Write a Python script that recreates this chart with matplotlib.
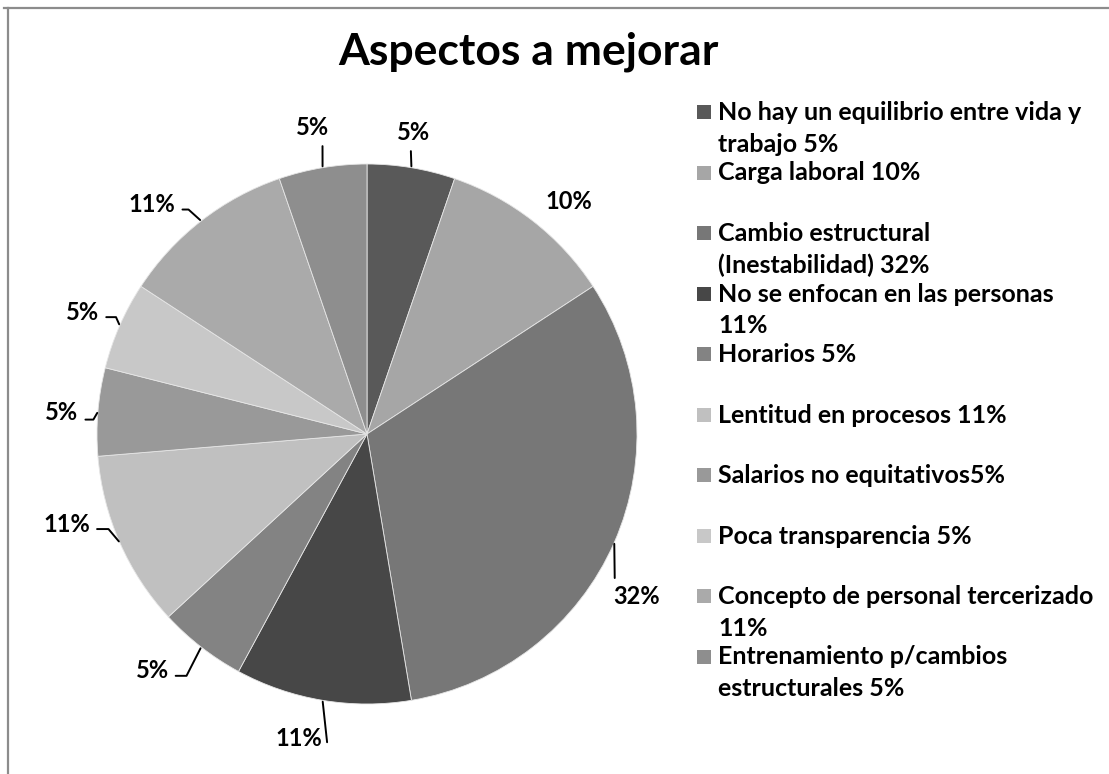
import numpy as np
import matplotlib.pyplot as plt
from matplotlib.patches import Rectangle
from matplotlib.lines import Line2D

plt.rcParams['font.family'] = ['Lato', 'DejaVu Sans']
plt.rcParams['font.weight'] = 'bold'

# data
categorias = [
    'No hay un equilibrio entre vida y\ntrabajo 5%',
    'Carga laboral 10%',
    'Cambio estructural\n(Inestabilidad) 32%',
    'No se enfocan en las personas\n11%',
    'Horarios 5%',
    'Lentitud en procesos 11%',
    'Salarios no equitativos5%',
    'Poca transparencia 5%',
    'Concepto de personal tercerizado\n11%',
    'Entrenamiento p/cambios\nestructurales 5%',
]
respuestas = [1, 2, 6, 2, 1, 2, 1, 1, 2, 1]
etiquetas = ['5%', '10%', '32%', '11%', '5%', '11%', '5%', '5%', '11%', '5%']

colores = ['#595959', '#a6a6a6', '#777777', '#474747', '#838383',
           '#c0c0c0', '#999999', '#c8c8c8', '#aaaaaa', '#8e8e8e']

# label offsets (pixels from wedge edge), leader anchor on text, leader bend angle
offs = [(2.5, 35), (36, 19), (22, -54), (-24, -38), (-49, -23),
        (-53, 18), (-36, -1), (-37, 13), (-49, 16), (-10, 40)]
rel = [(0.4, 0), None, (0.04, 1), (1.12, 0.15), (1, 0.25),
       (1, 0.3), (1, 0.2), (1, 0.3), (1, 0.3), (0.8, 0)]
quiebre = [None, None, None, None, 63, 130, 60, 114, 138, None]

W, H = 1109, 774
fig = plt.figure(figsize=(W / 100, H / 100), dpi=100)

# frame lines of the chart area
fig.add_artist(Line2D([4 / W, 1], [1 - 8 / H, 1 - 8 / H], color='#8c8c8c', lw=1.6))
fig.add_artist(Line2D([8 / W, 8 / W], [0, 1 - 8 / H], color='#8c8c8c', lw=1.6))

cx, cy, R = 367, 434, 270
ax = fig.add_axes([(cx - R) / W, (H - cy - R) / H, 2 * R / W, 2 * R / H])
wedges, _ = ax.pie(respuestas, colors=colores, startangle=90, counterclock=False,
                   radius=1, wedgeprops=dict(edgecolor='#e6e6e6', linewidth=0.6))
ax.set_xlim(-1, 1)
ax.set_ylim(-1, 1)
ax.axis('off')

for w, lab, off, rp, qb in zip(wedges, etiquetas, offs, rel, quiebre):
    ang = np.deg2rad((w.theta1 + w.theta2) / 2)
    xy = (np.cos(ang), np.sin(ang))
    ap = None
    if rp is not None:
        ap = dict(arrowstyle='-', color='black', lw=1.4, shrinkA=3, shrinkB=1, relpos=rp)
        if qb is not None:
            ap['connectionstyle'] = 'angle,angleA=0,angleB=%d,rad=0' % qb
    ax.annotate(lab, xy=xy, xytext=off, textcoords='offset pixels',
                ha='center', va='center', fontsize=17, fontweight='bold',
                arrowprops=ap)

fig.text(528 / W, 1 - 52 / H, 'Aspectos a mejorar', ha='center', va='center',
         fontsize=32, fontweight='bold')

# legend
for i, (txt, c) in enumerate(zip(categorias, colores)):
    yy = 112 + 60.5 * i
    fig.add_artist(Rectangle((697 / W, 1 - (yy + 7) / H), 14 / W, 14 / H,
                             facecolor=c, edgecolor='none'))
    fig.text(718 / W, 1 - (yy - 11) / H, txt, ha='left', va='top',
             fontsize=18, fontweight='bold', linespacing=1.45)

fig.savefig('out.png', dpi=100)
